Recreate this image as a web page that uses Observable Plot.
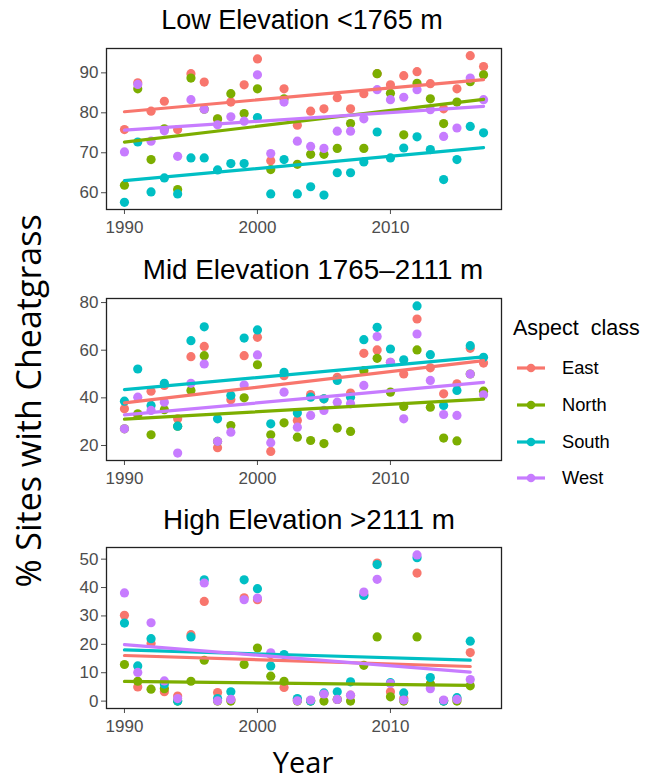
<!DOCTYPE html>
<html><head><meta charset="utf-8">
<script src="https://cdn.jsdelivr.net/npm/d3@7"></script>
<script src="https://cdn.jsdelivr.net/npm/@observablehq/plot@0.6"></script>
<style>
body{margin:0;background:#fff;}
#root{position:relative;width:651px;height:784px;overflow:hidden;font-family:"Liberation Sans",Arial,sans-serif;background:#fff;}
.ptitle{position:absolute;line-height:1;color:#000;white-space:nowrap;transform:translateX(-50%);}
</style></head><body><div id="root"></div>
<script>
const aspects = ["East", "North", "South", "West"];
const colors = ["#F8766D", "#7CAE00", "#00BFC4", "#C77CFF"];
const xTicks = [1990, 2000, 2010];

const yearsLowMid = [1990,1991,1992,1993,1994,1995,1996,1997,1998,1999,2000,2001,2002,2003,2004,2005,2006,2007,2008,2009,2010,2011,2012,2013,2014,2015,2016,2017];
const yearsHigh = [1990,1991,1992,1993,1994,1995,1996,1997,1998,1999,2000,2001,2002,2003,2004,2005,2006,2007,2008,2009,2010,2011,2012,2013,2014,2015,2016];

// Low Elevation <1765 m
const lowEast  = [75.8,87.5,80.4,82.9,75.8,89.8,87.7,78.4,82.7,87.0,93.5,68.0,86.0,76.9,80.4,81.0,83.8,81.0,84.8,89.8,87.0,89.3,90.3,87.3,81.0,86.0,94.3,91.6];
const lowNorth = [61.9,86.0,68.3,76.0,60.8,88.7,80.9,78.5,84.8,79.8,86.0,65.8,83.5,67.1,69.6,69.6,71.1,77.3,71.1,89.8,84.9,74.5,87.4,83.5,77.3,82.7,87.8,89.5];
const lowSouth = [57.6,72.7,60.2,63.7,59.7,68.7,68.7,65.7,67.3,67.3,78.8,59.7,68.3,59.7,61.5,59.4,65.0,65.0,67.7,75.2,68.7,71.2,74.0,70.8,63.3,68.3,76.6,75.0];
const lowWest  = [70.2,87.1,72.9,75.5,69.1,83.3,80.9,77.0,79.0,77.9,89.5,69.8,82.7,72.9,71.6,71.1,75.4,75.4,78.5,85.8,83.3,83.9,85.8,80.8,74.1,76.2,88.7,83.3];

// Mid Elevation 1765–2111 m
const midEast  = [35.4,32.6,42.8,45.2,31.2,57.3,61.6,19.1,39.2,57.7,65.4,17.5,49.3,30.5,41.4,39.6,48.6,42.0,58.7,60.1,54.9,50.0,73.1,52.6,41.7,45.9,60.8,54.6];
const midNorth = [27.0,33.3,24.5,35.0,28.1,43.1,57.7,21.7,28.4,40.0,53.9,24.5,29.5,23.5,22.1,20.8,27.3,25.9,51.4,56.6,42.4,36.4,60.1,36.1,23.1,21.9,50.0,42.8];
const midSouth = [38.6,52.1,36.8,46.1,28.1,64.0,69.8,31.2,41.0,65.1,68.5,29.1,50.7,33.6,40.3,39.6,47.3,40.3,64.4,69.6,60.5,56.0,78.6,58.1,36.8,43.1,61.9,57.0];
const midWest  = [27.0,40.3,34.7,38.2,16.8,46.1,54.2,21.7,25.6,45.4,58.0,21.2,42.4,27.7,32.6,34.7,38.2,37.5,45.2,65.7,54.9,31.2,66.8,47.3,33.0,32.6,50.0,41.3];

// High Elevation >2111 m
const highEast  = [30.2,5.0,20.3,3.3,1.8,23.4,35.1,3.0,0.6,36.4,35.7,16.4,4.8,0.5,0.2,2.5,0.6,2.1,37.5,48.6,3.3,1.0,45.1,6.0,0.2,0.8,17.1];
const highNorth = [12.9,7.0,4.2,4.4,0.0,7.0,14.4,0.0,0.0,12.9,18.7,8.8,7.0,0.0,0.0,0.0,0.6,0.0,12.6,22.6,1.5,0.0,22.6,6.0,0.0,0.0,5.4];
const highSouth = [27.5,12.4,22.0,6.0,0.0,22.6,42.7,0.9,3.3,42.7,39.6,12.4,16.4,0.9,0.0,2.9,3.3,6.8,37.2,48.1,6.5,2.9,50.5,8.3,0.0,1.2,21.1];
const highWest  = [38.1,10.1,27.6,7.1,0.9,null,41.6,0.1,0.6,35.7,36.3,17.0,null,0.1,0.4,2.5,0.6,2.1,38.4,42.9,6.2,0.4,51.5,4.4,0.4,0.6,7.6];

const panelTitles = ["Low Elevation <1765 m", "Mid Elevation 1765\u20132111 m", "High Elevation >2111 m"];
const lowTicks = [60, 70, 80, 90];
const midTicks = [20, 40, 60, 80];
const highTicks = [0, 10, 20, 30, 40, 50];

function rowsFor(years, series) {
  const out = [];
  series.forEach((vals, i) => {
    vals.forEach((v, j) => { if (v != null) out.push({year: years[j], value: v, aspect: aspects[i]}); });
  });
  return out;
}

const panels = [
  {title: panelTitles[0], titleX: 302, titleTop: 7, fs: 27, top: 40, domain: [55.8, 96.1], ticks: lowTicks, h: 161,
   rows: rowsFor(yearsLowMid, [lowEast, lowNorth, lowSouth, lowWest])},
  {title: panelTitles[1], titleX: 313, titleTop: 256, fs: 27.8, top: 290, domain: [13.7, 81.7], ticks: midTicks, h: 162,
   rows: rowsFor(yearsLowMid, [midEast, midNorth, midSouth, midWest])},
  {title: panelTitles[2], titleX: 309, titleTop: 506, fs: 27.8, top: 539, domain: [-2.6, 54.1], ticks: highTicks, h: 161,
   rows: rowsFor(yearsHigh, [highEast, highNorth, highSouth, highWest])}
];

const root = document.getElementById("root");

panels.forEach(p => {
  const t = document.createElement("div");
  t.className = "ptitle";
  t.textContent = p.title;
  t.style.left = p.titleX + "px";
  t.style.top = p.titleTop + "px";
  t.style.fontSize = p.fs + "px";
  root.appendChild(t);

  const svg = Plot.plot({
    width: 520,
    height: 8 + p.h + 32,
    marginLeft: 106, marginRight: 19, marginTop: 8, marginBottom: 32,
    style: {fontFamily: "'Liberation Sans', Arial, sans-serif", fontSize: "17px", color: "#4d4d4d", background: "transparent", overflow: "visible"},
    x: {domain: [1988.65, 2018.35], ticks: xTicks, tickFormat: d => String(d), tickSize: 5, tickPadding: 6, label: null},
    y: {domain: p.domain, ticks: p.ticks, tickSize: 5, tickPadding: 3, label: null},
    color: {domain: aspects, range: colors},
    marks: [
      Plot.dot(p.rows, {x: "year", y: "value", fill: "aspect", r: 4.6}),
      Plot.linearRegressionY(p.rows, {x: "year", y: "value", stroke: "aspect", strokeWidth: 3.2, ci: 0}),
      Plot.frame({stroke: "#222", strokeWidth: 1.3})
    ]
  });
  svg.style.position = "absolute";
  svg.style.left = "0px";
  svg.style.top = p.top + "px";
  root.appendChild(svg);
});

// Axis titles (overlay svg)
const ov = d3.create("svg").attr("width", 651).attr("height", 784)
  .style("position", "absolute").style("left", "0px").style("top", "0px")
  .style("pointer-events", "none")
  .style("font-family", "'Open Sans', sans-serif");
ov.append("text")
  .attr("transform", "translate(41,401) rotate(-90)")
  .attr("text-anchor", "middle")
  .attr("font-size", 34)
  .attr("fill", "#000")
  .text("% Sites with Cheatgrass");
ov.append("text")
  .attr("x", 303).attr("y", 773)
  .attr("text-anchor", "middle")
  .attr("font-size", 29)
  .attr("fill", "#000")
  .text("Year");
root.appendChild(ov.node());

// Legend
const legendTitle = "Aspect\u00a0 class";
const leg = d3.create("svg").attr("width", 150).attr("height", 200)
  .style("position", "absolute").style("left", "505px").style("top", "300px")
  .style("font-family", "'Liberation Sans', Arial, sans-serif");
leg.append("text").attr("x", 8).attr("y", 35).attr("font-size", 21.5).attr("fill", "#000").text(legendTitle);
const ys = [68, 105, 142, 178];
aspects.forEach((a, i) => {
  const g = leg.append("g").attr("transform", `translate(0,${ys[i]})`);
  g.append("line").attr("x1", 12).attr("x2", 40).attr("stroke", colors[i]).attr("stroke-width", 3.2);
  g.append("circle").attr("cx", 26).attr("r", 4.3).attr("fill", colors[i]);
  g.append("text").attr("x", 57).attr("dy", "0.35em").attr("font-size", 18.3).attr("fill", "#000").text(a);
});
root.appendChild(leg.node());
</script></body></html>
